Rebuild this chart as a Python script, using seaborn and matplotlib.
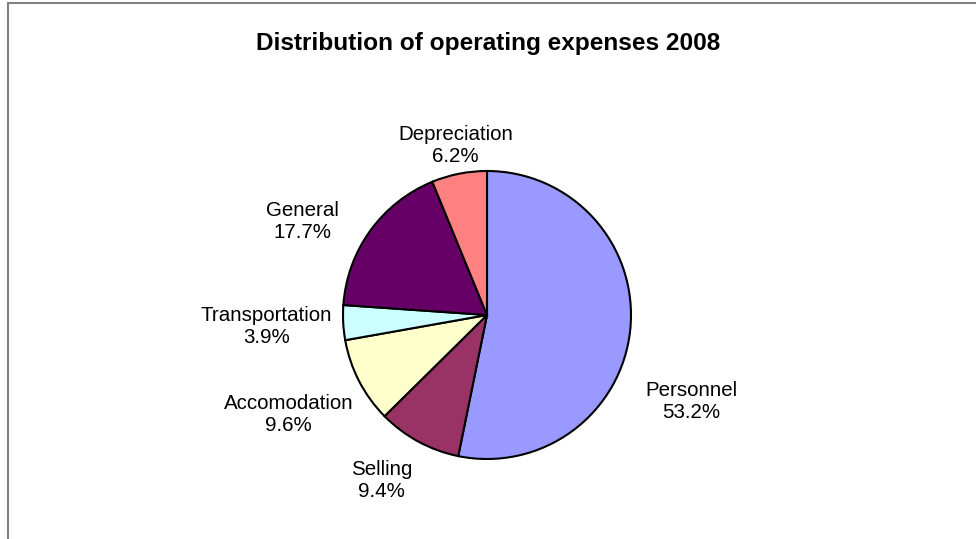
import matplotlib
matplotlib.use("Agg")
import matplotlib.pyplot as plt
from matplotlib.lines import Line2D
import seaborn as sns

# Operating expense shares for 2008 (percent)
categories = ["Personnel", "Selling", "Accomodation", "Transportation", "General", "Depreciation"]
shares = [53.2, 9.4, 9.6, 3.9, 17.7, 6.2]
colors = ["#9999FF", "#993366", "#FFFFCC", "#CCFFFF", "#660066", "#FF8080"]

# Label anchor points, in units of the pie radius
label_pos = [(1.42, -0.60), (-0.73, -1.15), (-1.38, -0.69),
             (-1.53, -0.08), (-1.28, 0.65), (-0.22, 1.18)]

sns.set_theme(style="white")
plt.rcParams["font.family"] = ["Liberation Sans", "DejaVu Sans"]

W, H, DPI = 976, 539, 100
fig = plt.figure(figsize=(W / DPI, H / DPI), dpi=DPI)
fig.patch.set_facecolor("white")

# Pie centred at (487, 315) px with a 144 px radius
cx, cy, R = 487, 315, 144
ax = fig.add_axes([0, 0, 1, 1])
ax.pie(shares, colors=colors, startangle=90, counterclock=False,
       wedgeprops=dict(edgecolor="black", linewidth=1.5))
ax.set_xlim(-cx / R, (W - cx) / R)
ax.set_ylim(-(H - cy) / R, cy / R)
ax.set_aspect("auto")
ax.axis("off")

for name, val, (x, y) in zip(categories, shares, label_pos):
    ax.text(x, y, f"{name}\n{val:.1f}%", ha="center", va="center",
            fontsize=14.8, linespacing=1.2, color="black")

fig.text(488 / W, 1 - 43.5 / H, "Distribution of operating expenses 2008",
         ha="center", va="center", fontsize=17.6, fontweight="bold", color="black")

# Chart-area frame (top and left edges)
fig.add_artist(Line2D([8 / W, 8 / W], [0, 1 - 3 / H], transform=fig.transFigure,
                      color="#808080", linewidth=1.5))
fig.add_artist(Line2D([8 / W, 1], [1 - 3 / H, 1 - 3 / H], transform=fig.transFigure,
                      color="#808080", linewidth=1.5))

fig.savefig("out.png", dpi=DPI, facecolor="white")
